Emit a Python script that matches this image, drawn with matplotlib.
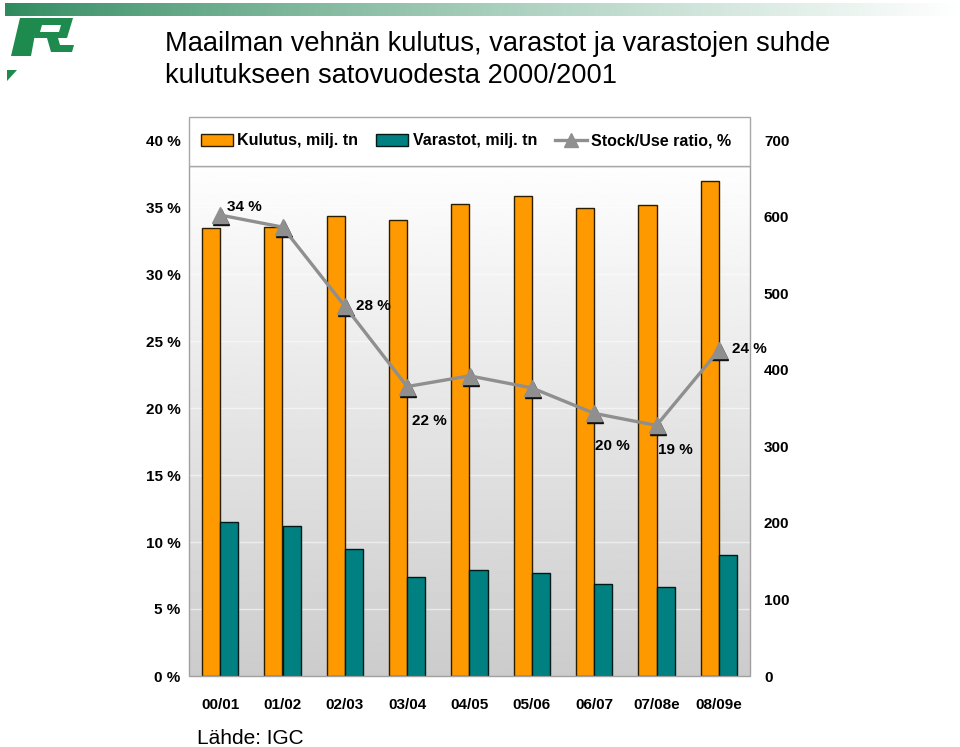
import matplotlib.pyplot as plt
import numpy as np
from matplotlib.patches import Rectangle, Polygon, Patch
from matplotlib.lines import Line2D
from matplotlib.transforms import offset_copy

plt.rcParams['font.family'] = ['Liberation Sans', 'DejaVu Sans']

# data
seasons = ["00/01", "01/02", "02/03", "03/04", "04/05", "05/06", "06/07", "07/08e", "08/09e"]
kulutus = [585, 586, 601, 595, 616, 627, 611, 615, 646]    # milj. tn
varastot = [201, 196, 166, 129, 138, 135, 120, 116, 158]   # milj. tn
ratio = [34.4, 33.5, 27.6, 21.6, 22.4, 21.5, 19.6, 18.7, 24.3]  # %
ratio_labels = {0: "34 %", 2: "28 %", 3: "22 %", 6: "20 %", 7: "19 %", 8: "24 %"}

left_ticks = list(range(0, 45, 5))
right_ticks = list(range(0, 800, 100))

W, H = 960, 747
ORANGE = "#ff9900"
TEAL = "#008080"
GRAY = "#8f8f8f"


def fx(x):
    return x / W


def fy(y):
    return 1 - y / H


fig = plt.figure(figsize=(9.6, 7.47), dpi=100)

# plot area: x 189..750 px, axis 0..40 % spans y 676..140 px
ax = fig.add_axes([fx(189), fy(676), fx(750) - fx(189), fy(140) - fy(676)])
ax2 = ax.twinx()

x = np.arange(len(seasons))
bw = 0.29
top_frac = (676 - 166) / (676 - 140)

ax.set_xlim(-0.5, len(seasons) - 0.5)
ax.set_ylim(0, 700)
ax2.set_ylim(0, 40)

# gradient background
grad = np.linspace(0.80, 0.995, 256)[:, None]
ax.imshow(grad, cmap="gray", vmin=0, vmax=1, aspect="auto", origin="lower",
          extent=[-0.5, len(seasons) - 0.5, 0, 700 * top_frac], zorder=0)
for t in left_ticks[1:-1]:
    ax.plot([-0.5, len(seasons) - 0.5], [t, t], color="white", lw=1, alpha=0.55,
            transform=ax2.transData, zorder=0.5)

ax.bar(x - bw / 2, kulutus, bw, color=ORANGE, edgecolor="#2b1d00", lw=1, zorder=2)
ax.bar(x + bw / 2, varastot, bw, color=TEAL, edgecolor="#001a1a", lw=1, zorder=2)

shadow = offset_copy(ax2.transData, fig=fig, x=1, y=-2, units="dots")
ax2.plot(x, ratio, ls="none", marker="^", ms=12, color="#111111", transform=shadow, zorder=3)
ax2.plot(x, ratio, color=GRAY, lw=2.4, marker="^", ms=12, mfc=GRAY, mec=GRAY, zorder=4)

offsets = {0: (7, 8), 2: (11, 0), 3: (5, -34), 6: (1, -33), 7: (2, -25), 8: (13, 1)}
for i, lab in ratio_labels.items():
    dx, dy = offsets[i]
    ax2.annotate(lab, (x[i], ratio[i]), xytext=(dx * 0.72, dy * 0.72), textcoords="offset points",
                 ha="left", va="center", fontsize=11, fontweight="bold", zorder=5)

for a in (ax, ax2):
    for s in a.spines.values():
        s.set_visible(False)
    a.tick_params(length=0)

ax.yaxis.tick_right()
ax.set_yticks(right_ticks)
ax.set_yticklabels([str(t) for t in right_ticks], fontsize=11, fontweight="bold")
ax.tick_params(axis="y", pad=10)

ax2.yaxis.tick_left()
ax2.set_yticks(left_ticks)
ax2.set_yticklabels([f"{t} %" for t in left_ticks], fontsize=11, fontweight="bold")
ax2.tick_params(axis="y", pad=6)

ax.set_xticks(x)
ax.set_xticklabels(seasons, fontsize=11, fontweight="bold")
ax.tick_params(axis="x", pad=16)

# plot area border and legend box
ax.add_patch(Rectangle((0, 0), 1, top_frac, transform=ax.transAxes, fill=False,
                       edgecolor="#a0a0a0", lw=1, zorder=6, clip_on=False))
fig.patches.append(Rectangle((fx(189), fy(166)), fx(750) - fx(189), fy(117) - fy(166),
                             transform=fig.transFigure, facecolor="white",
                             edgecolor="#a8a8a8", lw=1, zorder=1))

handles = [Patch(facecolor=ORANGE, edgecolor="#2b1d00", lw=1),
           Patch(facecolor=TEAL, edgecolor="#001a1a", lw=1),
           Line2D([], [], color=GRAY, lw=2.4, marker="^", ms=10)]
names = ["Kulutus, milj. tn", "Varastot, milj. tn", "Stock/Use ratio, %"]
fig.legend(handles, names, loc="center", bbox_to_anchor=(fx(466), fy(141)), ncol=3,
           frameon=False, prop={"size": 11.5, "weight": "bold"}, handlelength=2.0,
           handletextpad=0.3, columnspacing=1.1)

# title and source
fig.text(fx(165), fy(44), "Maailman vehnän kulutus, varastot ja varastojen suhde",
         fontsize=19.6, va="center", ha="left")
fig.text(fx(165), fy(76), "kulutukseen satovuodesta 2000/2001",
         fontsize=19.6, va="center", ha="left")
fig.text(fx(197), fy(738), "Lähde: IGC", fontsize=15, va="center", ha="left")

# top banner
bax = fig.add_axes([fx(5), fy(16), 1 - fx(5), fy(3) - fy(16)])
t = np.linspace(0, 1, 300)
c0 = np.array([0.18, 0.54, 0.37])
band = c0[None, :] * (1 - t[:, None] ** 0.8) + np.ones(3)[None, :] * t[:, None] ** 0.8
bax.imshow(band[None, :, :], aspect="auto")
bax.axis("off")

# logo
green = "#1e8a4e"
logo = [
    [(20, 18), (38, 18), (31, 56), (11, 56)],
    [(36, 18), (73, 18), (67, 38), (34, 38)],
    [(47, 38), (58, 38), (60, 45), (74, 45), (72, 52), (51, 52)],
    [(7, 70), (17, 70), (7, 81)],
]
for pts in logo:
    fig.patches.append(Polygon([(fx(a), fy(b)) for a, b in pts], closed=True,
                               transform=fig.transFigure, facecolor=green, edgecolor="none"))
fig.patches.append(Polygon([(fx(a), fy(b)) for a, b in [(42, 25), (61, 25), (59, 32), (40, 32)]],
                           closed=True, transform=fig.transFigure, facecolor="white",
                           edgecolor="none"))

fig.savefig("out.png", dpi=100)
